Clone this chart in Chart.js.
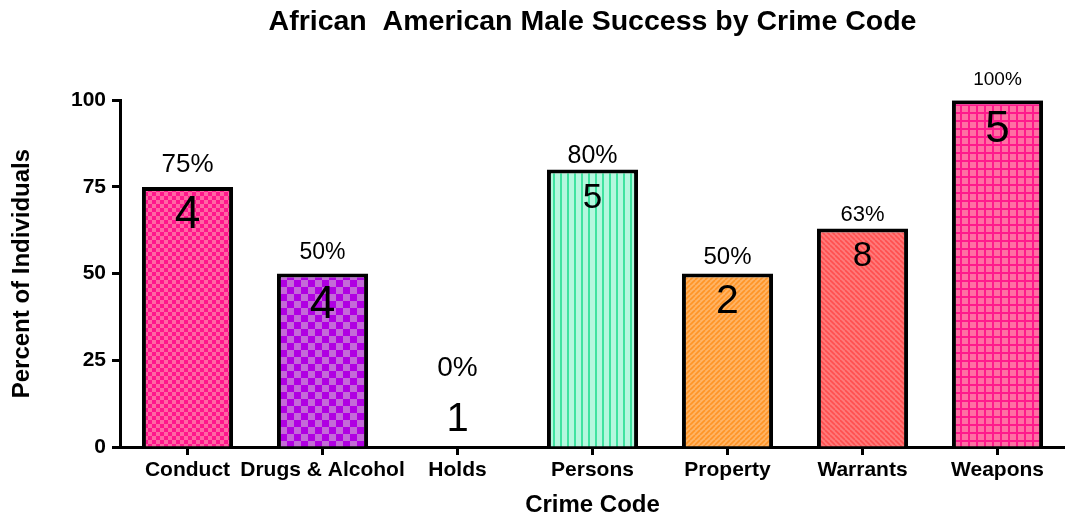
<!DOCTYPE html>
<html>
<head>
<meta charset="utf-8">
<script src="https://cdn.jsdelivr.net/npm/chart.js@4/dist/chart.umd.min.js"></script>
<style>
  body { margin: 0; background: #fff; }
  canvas { display: block; }
</style>
</head>
<body>
<canvas id="chart" width="1065" height="521"></canvas>
<script>
// data
var categories = ["Conduct", "Drugs & Alcohol", "Holds", "Persons", "Property", "Warrants", "Weapons"];
var percentValues = [75, 50, 0, 80, 50, 63, 100];
var countValues = [4, 4, 1, 5, 2, 8, 5];
var yTicks = [0, 25, 50, 75, 100];

var FONT = "Arial, 'Liberation Sans', sans-serif";

// small canvas patterns for the bar fills
function makePattern(size, draw) {
	var c = document.createElement("canvas");
	c.width = size;
	c.height = size;
	draw(c.getContext("2d"), size);
	return document.getElementById("chart").getContext("2d").createPattern(c, "repeat");
}
function checker(a, b, cell) {
	return makePattern(cell * 2, function (g, s) {
		g.fillStyle = a;
		g.fillRect(0, 0, s, s);
		g.fillStyle = b;
		g.fillRect(0, 0, cell, cell);
		g.fillRect(cell, cell, cell, cell);
	});
}
function vlines(bg, fg, step) {
	return makePattern(step, function (g, s) {
		g.fillStyle = bg;
		g.fillRect(0, 0, s, s);
		g.fillStyle = fg;
		g.fillRect(0, 0, 2, s);
	});
}
function diag(bg, fg, step, up) {
	return makePattern(step, function (g, s) {
		g.fillStyle = bg;
		g.fillRect(0, 0, s, s);
		g.strokeStyle = fg;
		g.lineWidth = 1.6;
		for (var k = -1; k <= 1; k++) {
			g.beginPath();
			if (up) {
				g.moveTo(k * s, s);
				g.lineTo(k * s + s, 0);
			} else {
				g.moveTo(k * s, 0);
				g.lineTo(k * s + s, s);
			}
			g.stroke();
		}
	});
}
function grid(bg, fg, step) {
	return makePattern(step, function (g, s) {
		g.fillStyle = bg;
		g.fillRect(0, 0, s, s);
		g.fillStyle = fg;
		g.fillRect(0, 0, 2, s);
		g.fillRect(0, 0, s, 2);
	});
}

var fills = [
	checker("#ff66a3", "#ff168c", 4),
	checker("#c46ad8", "#b000e2", 7),
	"#ffffff",
	vlines("#b5f7de", "#3fe3a0", 7),
	diag("#ffb466", "#ff9426", 5, true),
	diag("#ff7a7a", "#ff4f4f", 5, false),
	grid("#ff6fa3", "#ff1a8c", 8),
];

// label styling per bar
var pctSizes = [26, 23, 28, 25, 24, 22, 19];
var pctGaps = [15, 15, 0, 7, 10, 8, 15];
var countSizes = [46, 46, 40, 35, 41, 35, 44];
var countDrops = [41, 44, 0, 38, 39, 37, 42];

var barLabels = {
	id: "barLabels",
	afterDatasetsDraw: function (chart) {
		var ctx = chart.ctx;
		var meta = chart.getDatasetMeta(0);
		var base = chart.scales.y.getPixelForValue(0);
		ctx.save();
		ctx.fillStyle = "#000";
		ctx.textAlign = "center";
		ctx.textBaseline = "alphabetic";
		meta.data.forEach(function (bar, i) {
			var top = bar.y;
			var pctY, cntY;
			if (percentValues[i] === 0) {
				cntY = base - 16;
				pctY = base - 71;
			} else {
				pctY = top - pctGaps[i];
				cntY = top + countDrops[i];
			}
			ctx.font = pctSizes[i] + "px " + FONT;
			ctx.fillText(percentValues[i] + "%", bar.x, pctY);
			ctx.font = countSizes[i] + "px " + FONT;
			ctx.fillText(String(countValues[i]), bar.x, cntY);
		});
		ctx.restore();
	},
};

var grafico = new Chart(document.getElementById("chart"), {
	type: "bar",
	data: {
		labels: categories,
		datasets: [
			{
				data: percentValues,
				backgroundColor: fills,
				borderColor: "#000",
				borderWidth: 4,
				barPercentage: 0.675,
				categoryPercentage: 1,
			},
		],
	},
	options: {
		responsive: false,
		animation: false,
		layout: { padding: { left: 0, right: -3, top: 0, bottom: 0 } },
		plugins: {
			legend: { display: false },
			tooltip: { enabled: false },
			title: {
				display: true,
				fullSize: false,
				text: "African  American Male Success by Crime Code",
				color: "#000",
				font: { family: FONT, size: 28.5, weight: "bold" },
				padding: { top: 5, bottom: 61 },
			},
		},
		scales: {
			x: {
				afterFit: function (scale) {
					scale.height = 74;
				},
				border: { color: "#000", width: 3 },
				grid: {
					offset: false,
					drawOnChartArea: false,
					drawTicks: true,
					tickLength: 8,
					tickWidth: 3,
					color: "#000",
				},
				ticks: {
					autoSkip: false,
					maxRotation: 0,
					color: "#000",
					padding: 3,
					font: { family: FONT, size: 21, weight: "bold" },
				},
				title: {
					display: true,
					text: "Crime Code",
					color: "#000",
					font: { family: FONT, size: 24, weight: "bold" },
					padding: { top: 0, bottom: 1 },
				},
			},
			y: {
				min: 0,
				max: 100,
				afterFit: function (scale) {
					scale.width = 120;
				},
				afterBuildTicks: function (scale) {
					scale.ticks = yTicks.map(function (v) {
						return { value: v };
					});
				},
				border: { color: "#000", width: 3 },
				grid: {
					drawOnChartArea: false,
					drawTicks: true,
					tickLength: 8,
					tickWidth: 3,
					color: "#000",
				},
				ticks: {
					color: "#000",
					padding: 6,
					font: { family: FONT, size: 21, weight: "bold" },
				},
				title: {
					display: true,
					text: "Percent of Individuals",
					color: "#000",
					font: { family: FONT, size: 24, weight: "bold" },
					padding: { top: 8, bottom: 0 },
				},
			},
		},
	},
	plugins: [barLabels],
});
</script>
</body>
</html>
